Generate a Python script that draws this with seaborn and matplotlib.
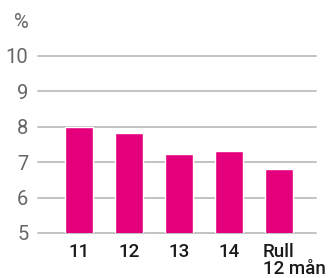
import pandas as pd
import seaborn as sns
import matplotlib.pyplot as plt
from matplotlib.transforms import ScaledTranslation

# ============================================================================
# DATA
# ============================================================================
categories = ['11', '12', '13', '14', 'Rull\n12 mån']
values = [8.0, 7.82, 7.23, 7.32, 6.81]
y_ticks = [5, 6, 7, 8, 9, 10]

df = pd.DataFrame({'Period': categories, 'Procent': values})

# ============================================================================
# PLOT
# ============================================================================
sns.set_theme(style="white")
plt.rcParams['font.family'] = ['Roboto', 'DejaVu Sans']

fig = plt.figure(figsize=(3.28, 2.78), dpi=100)
ax = fig.add_axes([0.116, 0.162, 0.847, 0.637])

# horizontal gridlines
for t in y_ticks:
    ax.axhline(t, color='#bdbdbd', linewidth=1.3, zorder=0, clip_on=False)

sns.barplot(data=df, x='Period', y='Procent', color='#e4007d',
            width=0.56, saturation=1, ax=ax, zorder=2)

ax.set_ylim(5, 10)
ax.set_xlim(-0.82, 4.74)
ax.set_yticks(y_ticks)
ax.set_xlabel('')
ax.set_ylabel('')
sns.despine(ax=ax, left=True, bottom=True)

ax.tick_params(axis='y', length=0, pad=7, labelsize=14.5, labelcolor='#666666')
ax.tick_params(axis='x', length=0, pad=7, labelsize=13.5, labelcolor='#1a1a1a')

labels = ax.get_xticklabels()
for lab in labels:
    lab.set_fontweight('medium')
    lab.set_linespacing(0.95)
last = labels[-1]
last.set_horizontalalignment('left')
last.set_multialignment('left')
last.set_transform(last.get_transform() + ScaledTranslation(-0.16, 0, fig.dpi_scale_trans))

fig.text(0.065, 0.92, '%', fontsize=14.5, color='#666666', ha='center', va='center')

plt.savefig("out.png", dpi=100)
